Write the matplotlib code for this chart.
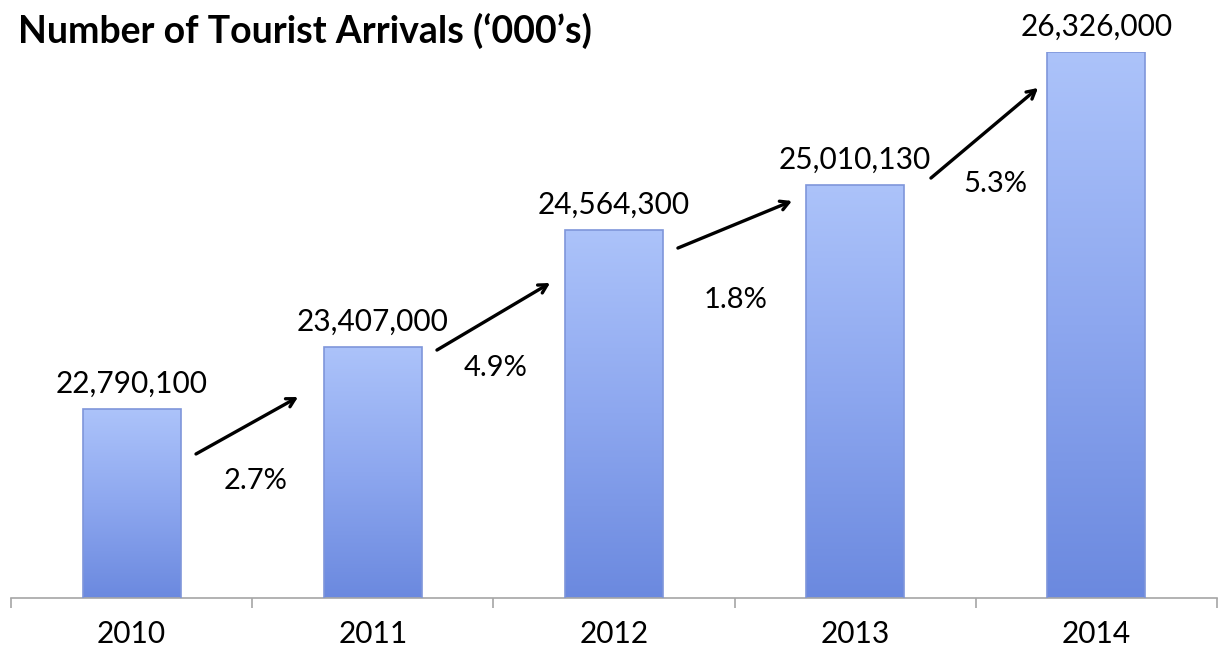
import numpy as np
import matplotlib
matplotlib.use("Agg")
import matplotlib.pyplot as plt
from matplotlib.colors import LinearSegmentedColormap

# data
years = ["2010", "2011", "2012", "2013", "2014"]
arrivals = [22790100, 23407000, 24564300, 25010130, 26326000]
growth_labels = ["2.7%", "4.9%", "1.8%", "5.3%"]

# annotation positions (category units, value)
arrow_starts = [(0.267, 22.346e6), (1.266, 23.375e6), (2.265, 24.385e6), (3.314, 25.078e6)]
arrow_ends = [(0.690, 22.910e6), (1.735, 24.039e6), (2.738, 24.851e6), (3.758, 25.970e6)]
growth_pos = [(0.512, 22.078e6), (1.511, 23.197e6), (2.502, 23.870e6), (3.580, 25.019e6)]

plt.rcParams["font.family"] = ["Lato", "DejaVu Sans"]

fig = plt.figure(figsize=(12.19, 6.5), dpi=100)
ax = fig.add_axes([11 / 1219, 0.08, 1206 / 1219, 0.84])

x = np.arange(len(years))
bar_w = 0.406
bars = ax.bar(x, arrivals, width=bar_w, color="none", edgecolor="#7f96da", linewidth=1.2, zorder=3)

# vertical gradient, darker at the bottom
cmap = LinearSegmentedColormap.from_list("bar", ["#6b89df", "#8da7ef", "#acc3fa"])
grad = np.linspace(0, 1, 256).reshape(-1, 1)
ymin = 20.92e6
for b in bars:
  im = ax.imshow(
    grad,
    cmap=cmap,
    origin="lower",
    aspect="auto",
    extent=[b.get_x(), b.get_x() + b.get_width(), ymin, b.get_height()],
    zorder=2,
  )
  im.set_clip_path(b)

for xi, v in zip(x, arrivals):
  ax.annotate(
    f"{v:,}",
    (xi, v),
    xytext=(0, 11.5),
    textcoords="offset points",
    ha="center",
    va="baseline",
    fontsize=21.5,
    annotation_clip=False,
  )

for s, e in zip(arrow_starts, arrow_ends):
  ax.annotate(
    "",
    xy=e,
    xytext=s,
    arrowprops=dict(arrowstyle="->,head_length=0.6,head_width=0.33", lw=2.4, color="black", shrinkA=0, shrinkB=0),
    annotation_clip=False,
  )

for lbl, (px, py) in zip(growth_labels, growth_pos):
  ax.text(px, py, lbl, ha="center", va="center", fontsize=21)

ax.set_xlim(-0.5, len(years) - 0.5)
ax.set_ylim(ymin, 26.326e6)
for sp in ["left", "right", "top"]:
  ax.spines[sp].set_visible(False)
ax.spines["bottom"].set_color("#a6a6a6")
ax.spines["bottom"].set_linewidth(1.2)
ax.set_yticks([])
ax.set_xticks(x)
ax.set_xticklabels(years, fontsize=21.5)
ax.set_xticks(np.arange(len(years) + 1) - 0.5, minor=True)
ax.tick_params(axis="x", which="major", length=0, pad=16)
ax.tick_params(axis="x", which="minor", length=7.5, width=1.2, color="#a6a6a6")

fig.text(18 / 1219, 1 - 43 / 650, "Number of Tourist Arrivals (\u2018000\u2019s)",
         fontsize=27, fontweight="bold", va="baseline", ha="left")

fig.savefig("out.png", dpi=100)
